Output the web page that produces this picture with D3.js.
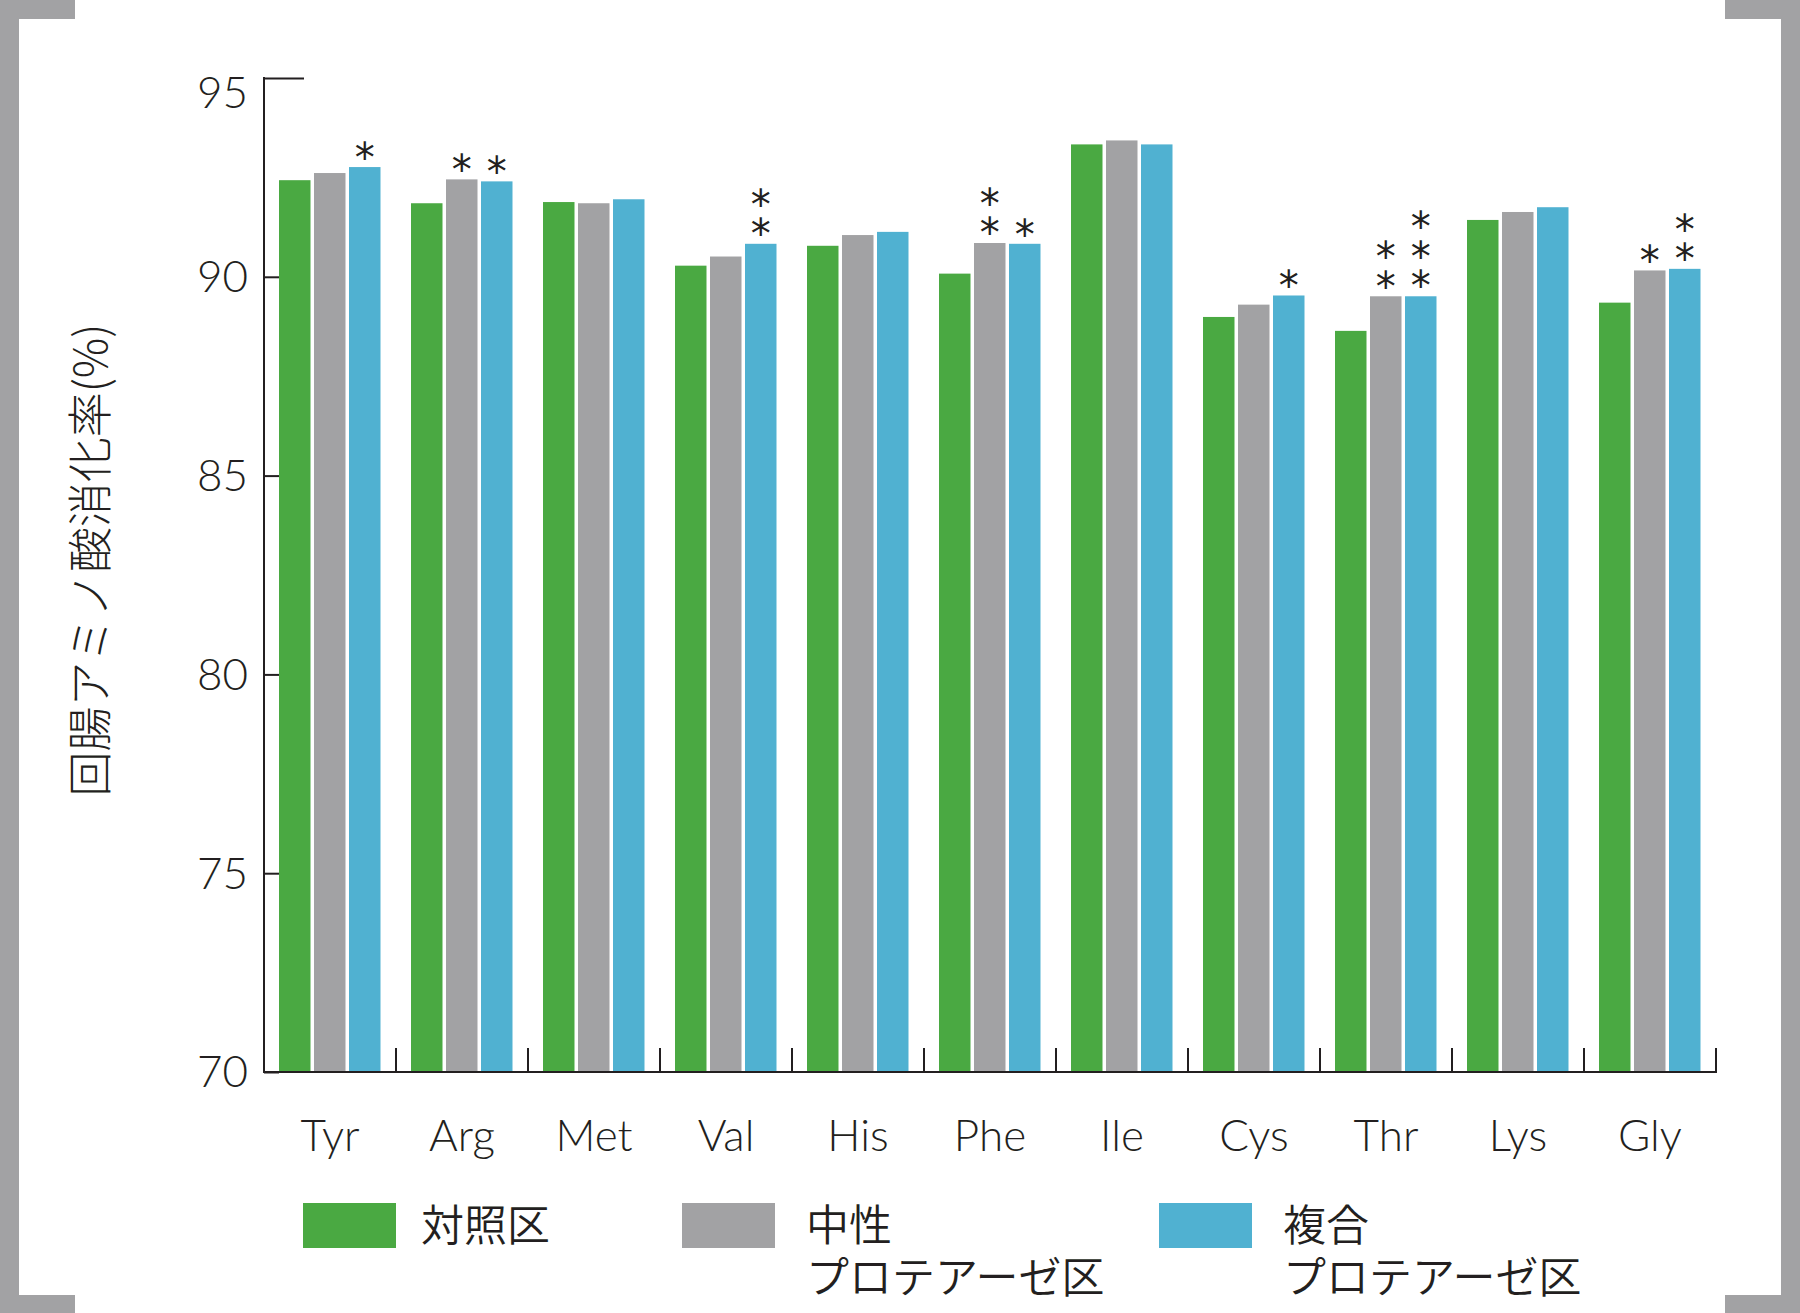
<!DOCTYPE html>
<html><head><meta charset="utf-8">
<script src="https://cdn.jsdelivr.net/npm/d3@7"></script>
<style>
html,body{margin:0;padding:0;background:#fff;}
svg{display:block;}
.stars{writing-mode:vertical-rl;text-orientation:upright;letter-spacing:-16.6px;}
</style></head>
<body>
<svg id="chart" width="1800" height="1313"></svg>
<script>
// ---- data ----
const categories = ["Tyr","Arg","Met","Val","His","Phe","Ile","Cys","Thr","Lys","Gly"];
const seriesNames = ["対照区", "中性プロテアーゼ区", "複合プロテアーゼ区"];
const controlValues = [92.43,91.85,91.88,90.28,90.78,90.08,93.33,88.99,88.64,91.43,89.35];
const neutralValues = [92.61,92.45,91.85,90.51,91.05,90.85,93.43,89.30,89.51,91.63,90.16];
const complexValues = [92.76,92.40,91.95,90.83,91.13,90.83,93.33,89.53,89.51,91.75,90.20];
const controlStars = [0,0,0,0,0,0,0,0,0,0,0];
const neutralStars = [0,1,0,0,0,2,0,0,2,0,1];
const complexStars = [1,1,0,2,0,1,0,1,3,0,2];
const yTicks = [70,75,80,85,90,95];
const legendLines = [["対照区"],["中性","プロテアーゼ区"],["複合","プロテアーゼ区"]];

const colors = ["#4aa942","#a2a2a4","#50b1d1"];
const allValues = [controlValues, neutralValues, complexValues];
const allStars = [controlStars, neutralStars, complexStars];

const svg = d3.select("#chart");
const latin = "Lato, 'Noto Sans', sans-serif";
const jp = "'Noto Sans CJK JP', sans-serif";
const ink = "#231f20";

// frame corners
const frameCol = "#a2a2a4";
svg.append("rect").attr("x",0).attr("y",0).attr("width",19).attr("height",1313).attr("fill",frameCol);
svg.append("rect").attr("x",1781).attr("y",0).attr("width",19).attr("height",1313).attr("fill",frameCol);
svg.append("rect").attr("x",0).attr("y",0).attr("width",75).attr("height",19).attr("fill",frameCol);
svg.append("rect").attr("x",1725).attr("y",0).attr("width",75).attr("height",19).attr("fill",frameCol);
svg.append("rect").attr("x",0).attr("y",1295).attr("width",75).attr("height",18).attr("fill",frameCol);
svg.append("rect").attr("x",1725).attr("y",1295).attr("width",75).attr("height",18).attr("fill",frameCol);

const pLeft = 264, pRight = 1716, pTop = 78, pBottom = 1072;

const x0 = d3.scaleBand().domain(categories).range([pLeft, pRight]).paddingInner(0).paddingOuter(0);
const x1 = d3.scaleBand().domain(d3.range(3)).range([15, x0.bandwidth()-15.5]).paddingInner(0.1).paddingOuter(0);
const y = d3.scaleLinear().domain([70,95]).range([pBottom, pTop]);

// bars
const g = svg.append("g");
categories.forEach((c, ci) => {
  const gg = g.append("g").attr("transform", `translate(${x0(c)},0)`);
  gg.selectAll("rect").data(d3.range(3)).join("rect")
    .attr("x", s => x1(s))
    .attr("y", s => y(allValues[s][ci]))
    .attr("width", x1.bandwidth())
    .attr("height", s => y(70) - y(allValues[s][ci]))
    .attr("fill", s => colors[s]);
  // significance stars: one vertical text per bar
  d3.range(3).forEach(s => {
    const n = allStars[s][ci];
    if (!n) return;
    gg.append("text")
      .attr("class","stars")
      .attr("x", x1(s) + x1.bandwidth()/2)
      .attr("y", y(allValues[s][ci]) - 17.5 - 14.5 - (n-1)*30)
      .attr("font-family","'DejaVu Sans', sans-serif")
      .attr("font-size", 40)
      .attr("fill", ink)
      .text("*".repeat(n));
  });
});

// y axis
const yAxis = d3.axisLeft(y).tickValues(yTicks).tickSize(-15).tickPadding(16).tickFormat(d3.format("d"));
const ya = svg.append("g").attr("transform", `translate(${pLeft},0)`).call(yAxis);
ya.select(".domain").remove();
ya.selectAll(".tick line").attr("stroke", ink).attr("stroke-width", 2)
  .attr("x2", d => d === 95 ? 40 : 15);
ya.selectAll(".tick text")
  .attr("font-family", latin).attr("font-weight", 300).attr("font-size", 44).attr("fill", ink)
  .attr("dy", d => d === 95 ? "0.68em" : "0.34em");
svg.append("line").attr("x1", pLeft).attr("x2", pLeft).attr("y1", pTop-1).attr("y2", pBottom+1)
  .attr("stroke", ink).attr("stroke-width", 2);

// x axis
svg.append("line").attr("x1", pLeft).attr("x2", pRight+1).attr("y1", pBottom).attr("y2", pBottom)
  .attr("stroke", ink).attr("stroke-width", 2);
const xAxis = d3.axisBottom(x0).tickSize(0).tickPadding(48);
const xa = svg.append("g").attr("transform", `translate(0,${pBottom})`).call(xAxis);
xa.select(".domain").remove();
xa.selectAll(".tick text").attr("font-family", latin).attr("font-weight", 300).attr("font-size", 44).attr("fill", ink);
// group separators
svg.append("g").selectAll("line").data(categories).join("line")
  .attr("x1", c => x0(c) + x0.bandwidth()).attr("x2", c => x0(c) + x0.bandwidth())
  .attr("y1", pBottom).attr("y2", pBottom - 24)
  .attr("stroke", ink).attr("stroke-width", 2);

// y title
svg.append("text")
  .attr("transform", "translate(87,560) rotate(-90)")
  .attr("text-anchor","middle").attr("dominant-baseline","central")
  .attr("font-family", jp).attr("font-weight", 300).attr("font-size", 45).attr("fill", ink)
  .text("回腸アミノ酸消化率(%)");

// legend
const legendX = [303, 682, 1159];
const legendTextOffset = [118, 124, 124];
const legend = svg.append("g");
legendLines.forEach((lines, i) => {
  legend.append("rect").attr("x", legendX[i]).attr("y", 1203).attr("width", 93).attr("height", 45).attr("fill", colors[i]);
  lines.forEach((t, j) => {
    legend.append("text").attr("x", legendX[i] + legendTextOffset[i]).attr("y", 1224.5 + j*52)
      .attr("dominant-baseline","central")
      .attr("font-family", "Lato, 'Noto Sans CJK JP', sans-serif").attr("font-weight", 350).attr("font-size", 43).attr("fill", ink)
      .text(t);
  });
});
</script>
</body></html>
